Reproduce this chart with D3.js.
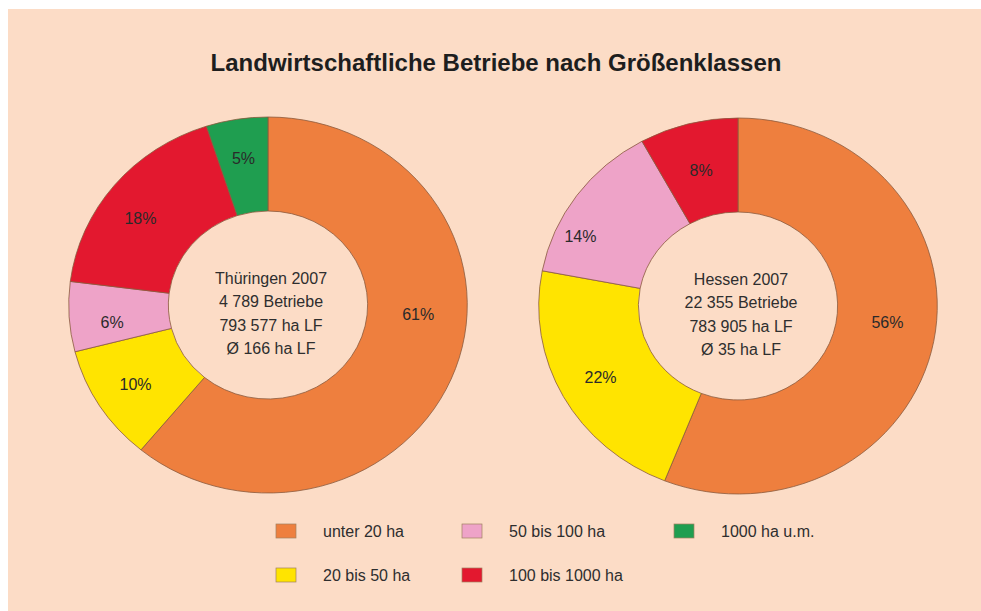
<!DOCTYPE html>
<html lang="de">
<head>
  <meta charset="UTF-8" />
  <title>Landwirtschaftliche Betriebe nach Größenklassen</title>
  <script src="https://d3js.org/d3.v7.min.js"></script>
  <style>
    body { margin: 0; background: #ffffff; }
    svg { display: block; font-family: "Liberation Sans", Arial, sans-serif; }
    .title { font-size: 24px; font-weight: bold; fill: #1e1e1e; }
    .pct { font-size: 16px; fill: #2a2a2a; }
    .info { font-size: 16px; fill: #2e2e2e; }
    .legend text { font-size: 16px; fill: #2e2e2e; }
  </style>
</head>
<body>

<svg width="981" height="611"></svg>

<script>
  // Daten
  const categories = ["unter 20 ha", "20 bis 50 ha", "50 bis 100 ha", "100 bis 1000 ha", "1000 ha u.m."];
  const thueringenValues = [61, 10, 6, 18, 5];
  const hessenValues = [56, 22, 14, 8, 0];
  const thueringenInfo = ["Thüringen 2007", "4 789 Betriebe", "793 577 ha LF", "Ø 166 ha LF"];
  const hessenInfo = ["Hessen 2007", "22 355 Betriebe", "783 905 ha LF", "Ø 35 ha LF"];

  const colors = d3.scaleOrdinal()
                   .domain(categories)
                   .range(["#ee7f3e", "#ffe400", "#eea3c8", "#e3182f", "#1f9e50"]);

  const svg = d3.select("svg");

  // Hintergrund
  svg.append("rect")
     .attr("x", 8).attr("y", 9)
     .attr("width", 973).attr("height", 602)
     .attr("fill", "#fcdcc6");

  svg.append("text")
     .attr("class", "title")
     .attr("x", 496)
     .attr("y", 71)
     .attr("text-anchor", "middle")
     .text("Landwirtschaftliche Betriebe nach Größenklassen");

  const rOuter = 188, rInner = 94, rLabel = 148, sx = 1.06;

  const pie = d3.pie().sort(null).value(d => d.value);
  const arc = d3.arc().innerRadius(rInner).outerRadius(rOuter);

  function drawDonut(cx, cy, values, info, labelShift) {
    const data = categories.map((c, i) => ({ cat: c, value: values[i] }));
    const arcs = pie(data).filter(d => d.data.value > 0);

    const g = svg.append("g").attr("transform", `translate(${cx},${cy})`);
    const ring = g.append("g").attr("transform", `scale(${sx},1)`);

    ring.selectAll("path")
        .data(arcs)
        .enter()
        .append("path")
        .attr("d", arc)
        .attr("fill", d => colors(d.data.cat))
        .attr("stroke", "#8a5b3e")
        .attr("stroke-width", 0.8)
        .attr("vector-effect", "non-scaling-stroke");

    g.selectAll(".pct")
     .data(arcs)
     .enter()
     .append("text")
     .attr("class", "pct")
     .attr("text-anchor", "middle")
     .attr("dy", "0.35em")
     .attr("transform", d => {
       const s = labelShift[d.data.cat] || [0, 0];
       const mid = (d.startAngle + d.endAngle) / 2 + s[0] * Math.PI / 180;
       const r = rLabel + s[1];
       const [x, y] = d3.arc().innerRadius(r).outerRadius(r)
                        .centroid({ startAngle: mid, endAngle: mid });
       return `translate(${x * sx},${y})`;
     })
     .text(d => d.data.value + "%");

    g.selectAll(".info")
     .data(info)
     .enter()
     .append("text")
     .attr("class", "info")
     .attr("text-anchor", "middle")
     .attr("x", 3)
     .attr("y", (d, i) => -27 + i * 23.5)
     .attr("dy", "0.35em")
     .text(d => d);
  }

  drawDonut(268, 305, thueringenValues, thueringenInfo,
            { "unter 20 ha": [-16, -6], "100 bis 1000 ha": [-4, 0], "50 bis 100 ha": [-3, 0] });
  drawDonut(738, 306, hessenValues, hessenInfo,
            { "unter 20 ha": [-4, -6], "50 bis 100 ha": [-11, 16], "100 bis 1000 ha": [0, -8] });

  // Legende
  const legendCols = [276, 462, 674];
  const legendRows = [531, 575];
  const legend = svg.append("g").attr("class", "legend");

  categories.forEach((cat, i) => {
    const col = Math.floor(i / 2), row = i % 2;
    const x = legendCols[col], y = legendRows[row];
    legend.append("rect")
          .attr("x", x)
          .attr("y", y - 7)
          .attr("width", 20)
          .attr("height", 14)
          .attr("fill", colors(cat))
          .attr("stroke", "#a08060")
          .attr("stroke-width", 0.7);
    legend.append("text")
          .attr("x", x + 47)
          .attr("y", y)
          .attr("dy", "0.35em")
          .text(cat);
  });
</script>

</body>
</html>
